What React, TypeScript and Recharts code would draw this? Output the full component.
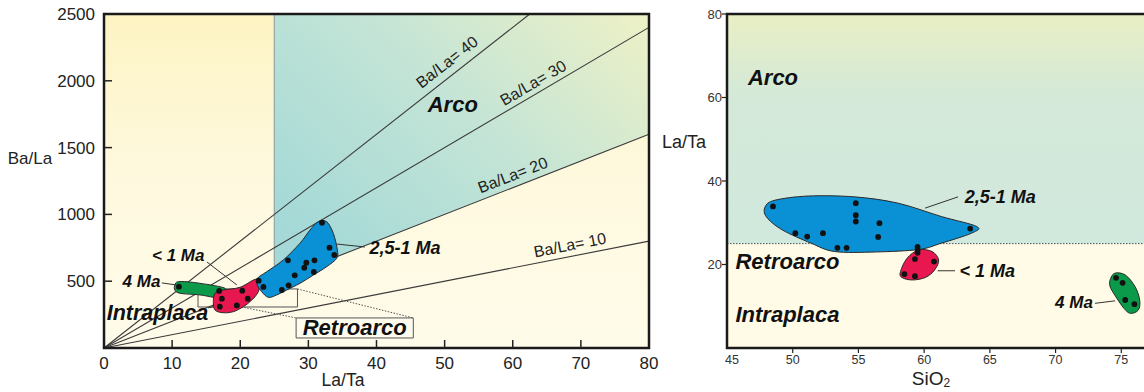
import React from 'react';
import { ScatterChart, Scatter, XAxis, YAxis } from 'recharts';

const FONT = '"Liberation Sans", Arial, Helvetica, sans-serif';

// ---------- Left panel: Ba/La vs La/Ta ----------
const laTaTicks = [0, 10, 20, 30, 40, 50, 60, 70, 80];
const baLaTicks = [500, 1000, 1500, 2000, 2500];
const ratioLines = [10, 20, 30, 40];
const leftFrame = [
  { x: 0, y: 0 }, { x: 0, y: 2500 }, { x: 80, y: 2500 }, { x: 80, y: 0 },
];
const arcoFieldLeft = [
  { x: 25, y: 500 }, { x: 25, y: 2500 }, { x: 80, y: 2500 }, { x: 80, y: 1600 },
];
const arcoBoundary = [{ x: 25, y: 500 }, { x: 25, y: 2500 }];
const zoomRect = [
  { x: 13.8, y: 307 }, { x: 13.8, y: 442 }, { x: 28.4, y: 442 }, { x: 28.4, y: 307 },
];
const retroBox = [
  { x: 28.2, y: 75 }, { x: 28.2, y: 225 }, { x: 45.4, y: 225 }, { x: 45.4, y: 75 },
];
const dottedA = [{ x: 28.4, y: 442 }, { x: 45.4, y: 225 }];
const dottedB = [{ x: 18.0, y: 330 }, { x: 28.2, y: 225 }];

const leftBlueSamples = [
  { x: 32.0, y: 938 }, { x: 33.1, y: 751 }, { x: 33.8, y: 696 }, { x: 27.0, y: 656 },
  { x: 29.7, y: 639 }, { x: 30.9, y: 656 }, { x: 29.4, y: 601 }, { x: 30.8, y: 569 },
  { x: 28.0, y: 544 }, { x: 22.7, y: 504 }, { x: 23.4, y: 457 }, { x: 27.1, y: 469 },
  { x: 26.1, y: 434 },
];
const leftRedSamples = [
  { x: 20.3, y: 429 }, { x: 17.3, y: 369 }, { x: 21.1, y: 369 }, { x: 17.0, y: 309 },
  { x: 19.5, y: 319 },
];
const leftGreenSamples = [{ x: 11.0, y: 459 }, { x: 16.9, y: 427 }];

const leftBlueOutline = [
  { x: 31.46, y: 945 }, { x: 32.69, y: 945 }, { x: 33.66, y: 858 }, { x: 34.25, y: 734 },
  { x: 34.16, y: 671 }, { x: 32.69, y: 609 }, { x: 30.73, y: 546 }, { x: 28.77, y: 484 },
  { x: 26.81, y: 434 }, { x: 25.35, y: 397 }, { x: 24.12, y: 379 }, { x: 23.15, y: 421 },
  { x: 22.5, y: 472 }, { x: 22.5, y: 521 }, { x: 23.88, y: 571 }, { x: 26.32, y: 659 },
  { x: 28.77, y: 784 }, { x: 30.24, y: 883 },
];
const leftRedOutline = [
  { x: 16.3, y: 409 }, { x: 17.5, y: 434 }, { x: 19.96, y: 454 }, { x: 22.2, y: 514 },
  { x: 22.8, y: 484 }, { x: 22.65, y: 421 }, { x: 21.7, y: 359 }, { x: 20.45, y: 309 },
  { x: 18.98, y: 272 }, { x: 17.5, y: 264 }, { x: 16.3, y: 284 }, { x: 16.05, y: 347 },
];
const leftGreenOutline = [
  { x: 10.4, y: 471 }, { x: 10.9, y: 496 }, { x: 13.1, y: 491 }, { x: 17.0, y: 459 },
  { x: 18.0, y: 434 }, { x: 18.0, y: 384 }, { x: 17.0, y: 372 }, { x: 14.1, y: 397 },
  { x: 11.2, y: 409 }, { x: 10.4, y: 434 },
];

// ---------- Right panel: La/Ta vs SiO2 ----------
const sioTicks = [45, 50, 55, 60, 65, 70, 75];
const laTaRightTicks = [20, 40, 60, 80];
const arcoFieldRight = [
  { x: 45, y: 25 }, { x: 45, y: 80 }, { x: 80, y: 80 }, { x: 80, y: 25 },
];
const retroFieldRight = [
  { x: 45, y: 0 }, { x: 45, y: 25 }, { x: 80, y: 25 }, { x: 80, y: 0 },
];
const arcoLimitRight = [{ x: 45, y: 25 }, { x: 80, y: 25 }];
const rightFrame = [
  { x: 80, y: 0 }, { x: 45, y: 0 }, { x: 45, y: 80 }, { x: 80, y: 80 },
];

const rightBlueSamples = [
  { x: 48.5, y: 33.9 }, { x: 54.8, y: 34.7 }, { x: 54.8, y: 31.8 }, { x: 54.8, y: 30.3 },
  { x: 56.6, y: 29.9 }, { x: 56.5, y: 26.6 }, { x: 50.2, y: 27.5 }, { x: 51.1, y: 26.7 },
  { x: 52.3, y: 27.5 }, { x: 53.4, y: 24.0 }, { x: 54.1, y: 24.0 }, { x: 63.5, y: 28.6 },
];
const rightRedSamples = [
  { x: 59.5, y: 24.2 }, { x: 59.5, y: 23.5 }, { x: 59.5, y: 22.8 }, { x: 59.3, y: 21.3 },
  { x: 60.75, y: 20.7 }, { x: 58.5, y: 17.7 }, { x: 59.3, y: 17.2 },
];
const rightGreenSamples = [
  { x: 74.6, y: 16.8 }, { x: 75.1, y: 15.6 }, { x: 75.3, y: 11.5 }, { x: 76.0, y: 10.5 },
];

const rightBlueOutline = [
  { x: 47.9, y: 33.8 }, { x: 48.65, y: 35.4 }, { x: 51.2, y: 36.4 }, { x: 54.7, y: 36.2 },
  { x: 58.0, y: 34.7 }, { x: 61.3, y: 31.5 }, { x: 64.0, y: 29.1 }, { x: 63.6, y: 27.5 },
  { x: 61.3, y: 25.1 }, { x: 59.6, y: 23.6 }, { x: 56.3, y: 23.0 }, { x: 53.2, y: 23.1 },
  { x: 51.4, y: 25.1 }, { x: 49.2, y: 28.3 }, { x: 48.0, y: 31.4 },
];
const rightRedOutline = [
  { x: 58.2, y: 18.3 }, { x: 58.7, y: 21.5 }, { x: 59.6, y: 23.5 }, { x: 60.6, y: 23.1 },
  { x: 61.1, y: 21.1 }, { x: 60.8, y: 18.7 }, { x: 60.1, y: 16.9 }, { x: 59.1, y: 16.3 },
  { x: 58.3, y: 16.9 },
];
const rightGreenOutline = [
  { x: 74.15, y: 16.3 }, { x: 74.5, y: 17.9 }, { x: 75.3, y: 17.5 }, { x: 76.05, y: 14.7 },
  { x: 76.4, y: 11.5 }, { x: 76.3, y: 9.1 }, { x: 75.7, y: 8.3 }, { x: 75.2, y: 9.5 },
  { x: 74.5, y: 12.7 }, { x: 74.15, y: 14.7 },
];

// ---------- drawing helpers ----------
type P = { x: number; y: number };

function smoothClosed(pts: P[]): string {
  const n = pts.length;
  if (!n) return '';
  let d = `M${pts[0].x},${pts[0].y}`;
  for (let i = 0; i < n; i++) {
    const p0 = pts[(i - 1 + n) % n];
    const p1 = pts[i];
    const p2 = pts[(i + 1) % n];
    const p3 = pts[(i + 2) % n];
    const c1x = p1.x + (p2.x - p0.x) / 6;
    const c1y = p1.y + (p2.y - p0.y) / 6;
    const c2x = p2.x - (p3.x - p1.x) / 6;
    const c2y = p2.y - (p3.y - p1.y) / 6;
    d += ` C${c1x},${c1y} ${c2x},${c2y} ${p2.x},${p2.y}`;
  }
  return d + ' Z';
}

function polyPath(pts: P[], closed: boolean): string {
  if (!pts || !pts.length) return '';
  const d = pts.map((p, i) => `${i ? 'L' : 'M'}${p.x},${p.y}`).join(' ');
  return closed ? d + ' Z' : d;
}

const none = () => <g />;

const blob = (fill: string) => (p: any) => (
  <path d={smoothClosed(p.points || [])} fill={fill} stroke="#2a2a2a" strokeWidth={1} />
);
const poly = (fill: string, stroke: string, sw: number) => (p: any) => (
  <path d={polyPath(p.points || [], true)} fill={fill} stroke={stroke} strokeWidth={sw} />
);
const seg = (stroke: string, sw: number, dash?: string) => (p: any) => (
  <path d={polyPath(p.points || [], false)} fill="none" stroke={stroke} strokeWidth={sw} strokeDasharray={dash} />
);
const dot = (p: any) => <circle cx={p.cx} cy={p.cy} r={2.9} fill="#111" />;

const txt = (
  s: string,
  size: number,
  opt: { bold?: boolean; italic?: boolean; rotate?: number; fill?: string } = {},
) => (p: any) => (
  <text
    x={p.cx}
    y={p.cy}
    textAnchor="middle"
    dominantBaseline="central"
    fontSize={size}
    fontFamily={FONT}
    fontWeight={opt.bold ? 'bold' : 'normal'}
    fontStyle={opt.italic ? 'italic' : 'normal'}
    fill={opt.fill || '#111'}
    transform={opt.rotate ? `rotate(${opt.rotate} ${p.cx} ${p.cy})` : undefined}
  >
    {s}
  </text>
);

const LeftYTick = (p: any) => {
  const v = p.payload.value;
  return (
    <g>
      {v !== 2500 && <line x1={p.x} x2={p.x + 8} y1={p.y} y2={p.y} stroke="#222" strokeWidth={1.5} />}
      <text x={p.x - 9} y={p.y} dy="0.35em" textAnchor="end" fontSize={17} fill="#222" fontFamily={FONT}>
        {v}
      </text>
    </g>
  );
};
const LeftXTick = (p: any) => {
  const v = p.payload.value;
  return (
    <g>
      {v !== 0 && v !== 80 && <line x1={p.x} x2={p.x} y1={p.y} y2={p.y - 8} stroke="#222" strokeWidth={1.5} />}
      <text x={p.x} y={p.y + 21} textAnchor="middle" fontSize={17} fill="#222" fontFamily={FONT}>
        {v}
      </text>
    </g>
  );
};
const RightYTick = (p: any) => {
  const v = p.payload.value;
  return (
    <g>
      <line x1={p.x - 5} x2={p.x} y1={p.y} y2={p.y} stroke="#222" strokeWidth={1.2} />
      <text x={p.x - 5} y={p.y} dy="0.35em" textAnchor="end" fontSize={13} fill="#333" fontFamily={FONT}>
        {v}
      </text>
    </g>
  );
};
const RightXTick = (p: any) => {
  const v = p.payload.value;
  return (
    <g>
      {v !== 45 && <line x1={p.x} x2={p.x} y1={p.y} y2={p.y + 5} stroke="#222" strokeWidth={1.2} />}
      <text x={p.x + (v === 45 ? 5 : 0)} y={p.y + 16} textAnchor="middle" fontSize={12.5} fill="#333" fontFamily={FONT}>
        {v}
      </text>
    </g>
  );
};

const title = (node: React.ReactNode, x: number, y: number, size: number) => () => (
  <text x={x} y={y} textAnchor="middle" dominantBaseline="central" fontSize={size} fill="#222" fontFamily={FONT}>
    {node}
  </text>
);

function ratioSegment(r: number): P[] {
  const xEnd = Math.min(80, 2500 / r);
  return [{ x: 0, y: 0 }, { x: xEnd, y: r * xEnd }];
}
const ratioAngle: Record<number, number> = { 10: -11.1, 20: -21.4, 30: -30.5, 40: -38 };
const ratioLabelPos: Record<number, P> = {
  10: { x: 68.4, y: 771 },
  20: { x: 60.0, y: 1295 },
  30: { x: 63.0, y: 1984 },
  40: { x: 50.35, y: 2141 },
};

const S = (props: any) => <Scatter isAnimationActive={false} shape={none} {...props} />;

function LeftChart() {
  return (
    <ScatterChart width={700} height={392} margin={{ top: 14, right: 51, bottom: 14, left: 44 }}>
      <defs>
        <linearGradient id="lYellow" x1="0" y1="0" x2="0" y2="1">
          <stop offset="0" stopColor="#fdf3c2" />
          <stop offset="0.45" stopColor="#fef9dd" />
          <stop offset="1" stopColor="#fffbea" />
        </linearGradient>
        <linearGradient id="lTeal" x1="0" y1="0.75" x2="1" y2="0">
          <stop offset="0" stopColor="#a4d9d7" />
          <stop offset="0.5" stopColor="#c3e4d6" />
          <stop offset="1" stopColor="#eef1c6" />
        </linearGradient>
      </defs>
      <XAxis
        type="number"
        dataKey="x"
        domain={[0, 80]}
        ticks={laTaTicks}
        interval={0}
        axisLine={false}
        tickLine={false}
        tickSize={0}
        tickMargin={0}
        tick={LeftXTick}
        height={30}
        label={{ content: title('La/Ta', 343, 380, 17.5) }}
      />
      <YAxis
        type="number"
        dataKey="y"
        domain={[0, 2500]}
        ticks={baLaTicks}
        interval={0}
        axisLine={false}
        tickLine={false}
        tickSize={0}
        tickMargin={0}
        tick={LeftYTick}
        width={60}
        label={{ content: title('Ba/La', 30, 158, 17) }}
      />
      <S data={leftFrame} line={poly('url(#lYellow)', 'none', 0)} />
      <S data={arcoFieldLeft} line={poly('url(#lTeal)', 'none', 0)} />
      <S data={arcoBoundary} line={seg('#8fa6a4', 1.2)} />
      {ratioLines.map((r) => (
        <S key={`rl${r}`} data={ratioSegment(r)} line={seg('#3a3a3a', 1.1)} />
      ))}
      <S data={zoomRect} line={poly('none', '#555', 1)} />
      <S data={dottedA} line={seg('#555', 1, '1.5 1.5')} />
      <S data={dottedB} line={seg('#555', 1, '1.5 1.5')} />
      <S data={retroBox} line={poly('#fffcee', '#555', 1)} />
      <S data={[{ x: 34.2, y: 778 }, { x: 38.3, y: 756 }]} line={seg('#333', 1)} />
      <S data={[{ x: 15.1, y: 644 }, { x: 19.5, y: 472 }]} line={seg('#333', 1)} />
      <S data={[{ x: 8.5, y: 487 }, { x: 10.6, y: 472 }]} line={seg('#333', 1)} />
      <S data={[{ x: 15.3, y: 300 }, { x: 17.0, y: 322 }]} line={seg('#333', 1)} />
      <S data={leftGreenOutline} line={blob('#0b9a49')} />
      <S data={leftRedOutline} line={blob('#e8174f')} />
      <S data={leftBlueOutline} line={blob('#0a90d4')} />
      <Scatter data={leftGreenSamples} shape={dot} isAnimationActive={false} />
      <Scatter data={leftRedSamples} shape={dot} isAnimationActive={false} />
      <Scatter data={leftBlueSamples} shape={dot} isAnimationActive={false} />
      {ratioLines.map((r) => (
        <S
          key={`lbl${r}`}
          data={[ratioLabelPos[r]]}
          shape={txt(`Ba/La= ${r}`, 16, { rotate: ratioAngle[r], fill: '#222' })}
        />
      ))}
      <S data={[{ x: 51.2, y: 1819 }]} shape={txt('Arco', 22, { bold: true, italic: true })} />
      <S data={[{ x: 44.2, y: 748 }]} shape={txt('2,5-1 Ma', 18, { bold: true, italic: true })} />
      <S data={[{ x: 10.9, y: 696 }]} shape={txt('< 1 Ma', 17, { bold: true, italic: true })} />
      <S data={[{ x: 5.5, y: 501 }]} shape={txt('4 Ma', 17, { bold: true, italic: true })} />
      <S data={[{ x: 7.85, y: 262 }]} shape={txt('Intraplaca', 21.5, { bold: true, italic: true })} />
      <S data={[{ x: 36.8, y: 150 }]} shape={txt('Retroarco', 22, { bold: true, italic: true })} />
      <S data={leftFrame} line={poly('none', '#1a1a1a', 2.5)} />
    </ScatterChart>
  );
}

function RightChart() {
  return (
    <ScatterChart width={565} height={392} margin={{ top: 14, right: 33, bottom: 14, left: 32 }}>
      <defs>
        <linearGradient id="rArco" x1="0" y1="0" x2="0" y2="1">
          <stop offset="0" stopColor="#e9efc4" />
          <stop offset="0.35" stopColor="#d4e9d8" />
          <stop offset="1" stopColor="#d1e8de" />
        </linearGradient>
      </defs>
      <XAxis
        type="number"
        dataKey="x"
        domain={[45, 80]}
        ticks={sioTicks}
        interval={0}
        axisLine={false}
        tickLine={false}
        tickSize={0}
        tickMargin={0}
        tick={RightXTick}
        height={30}
        label={{
          content: title(
            <>
              SiO<tspan fontSize={12} dy={5}>2</tspan>
            </>,
            276,
            378,
            19,
          ),
        }}
      />
      <YAxis
        type="number"
        dataKey="y"
        domain={[0, 80]}
        ticks={laTaRightTicks}
        interval={0}
        axisLine={false}
        tickLine={false}
        tickSize={0}
        tickMargin={0}
        tick={RightYTick}
        width={40}
        label={{ content: title('La/Ta', 29, 142, 18) }}
      />
      <S data={retroFieldRight} line={poly('#fffbe7', 'none', 0)} />
      <S data={arcoFieldRight} line={poly('url(#rArco)', 'none', 0)} />
      <S data={arcoLimitRight} line={seg('#555', 1, '1.5 1.5')} />
      <S data={[{ x: 60.07, y: 33.5 }, { x: 62.58, y: 36.2 }]} line={seg('#333', 1)} />
      <S data={[{ x: 61.03, y: 18.5 }, { x: 62.35, y: 18.5 }]} line={seg('#333', 1)} />
      <S data={[{ x: 73.0, y: 10.7 }, { x: 74.53, y: 11.3 }]} line={seg('#333', 1)} />
      <S data={rightBlueOutline} line={blob('#0a90d4')} />
      <S data={rightRedOutline} line={blob('#e8174f')} />
      <S data={rightGreenOutline} line={blob('#0b9a49')} />
      <Scatter data={rightBlueSamples} shape={dot} isAnimationActive={false} />
      <Scatter data={rightRedSamples} shape={dot} isAnimationActive={false} />
      <Scatter data={rightGreenSamples} shape={dot} isAnimationActive={false} />
      <S data={[{ x: 48.5, y: 64.9 }]} shape={txt('Arco', 22, { bold: true, italic: true })} />
      <S data={[{ x: 65.8, y: 36.2 }]} shape={txt('2,5-1 Ma', 18, { bold: true, italic: true })} />
      <S data={[{ x: 64.8, y: 18.4 }]} shape={txt('< 1 Ma', 18, { bold: true, italic: true })} />
      <S data={[{ x: 71.4, y: 11.0 }]} shape={txt('4 Ma', 17, { bold: true, italic: true })} />
      <S data={[{ x: 49.6, y: 20.6 }]} shape={txt('Retroarco', 22, { bold: true, italic: true })} />
      <S data={[{ x: 49.6, y: 8.1 }]} shape={txt('Intraplaca', 22, { bold: true, italic: true })} />
      <S data={rightFrame} line={seg('#1a1a1a', 2.5)} />
    </ScatterChart>
  );
}

export default function App() {
  return (
    <div
      style={{
        position: 'absolute',
        left: 0,
        top: 0,
        width: 1144,
        height: 392,
        overflow: 'hidden',
        background: '#ffffff',
      }}
    >
      <div style={{ position: 'absolute', left: 0, top: 0 }}>
        <LeftChart />
      </div>
      <div style={{ position: 'absolute', left: 655, top: 0 }}>
        <RightChart />
      </div>
    </div>
  );
}
